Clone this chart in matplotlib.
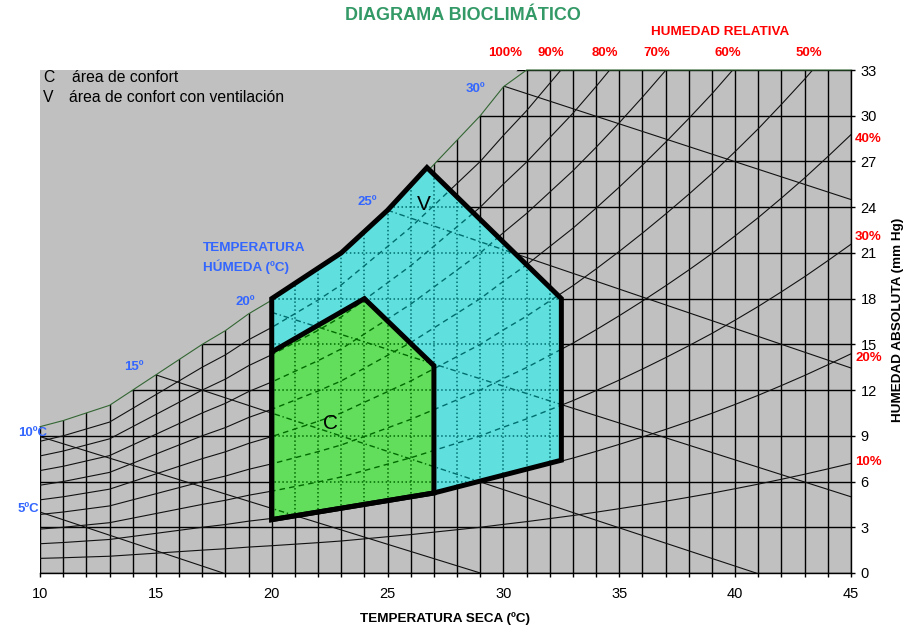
import numpy as np
import matplotlib
matplotlib.use("Agg")
import matplotlib.pyplot as plt
from matplotlib.patches import Polygon

plt.rcParams['font.family'] = ['Liberation Sans', 'DejaVu Sans']

# Dry-bulb temperature (ºC) and saturation vapour pressure (mm Hg)
dry_temp = [10, 11, 12, 13, 14, 15, 16, 17, 18, 19, 20, 21, 22, 23, 24, 25, 26, 27,
            28, 29, 30, 31, 32, 33, 34, 35, 36, 37, 38, 39, 40, 41, 42, 43, 44, 45]
sat_pressure = [9.6, 10.0, 10.5, 11.0, 12.0, 13.0, 14.0, 15.0, 15.9, 17.0, 17.9, 18.9,
                19.9, 21.0, 22.4, 23.8, 25.2, 26.8, 28.4, 30.0, 31.9, 33.7, 35.7, 37.7,
                39.9, 42.2, 44.6, 47.1, 49.7, 52.4, 55.3, 58.3, 61.5, 64.8, 68.3, 71.9]

# Relative humidity curves (%)
rh_levels = [90, 80, 70, 60, 50, 40, 30, 20, 10]
rh_top_labels = ["100%", "90%", "80%", "70%", "60%", "50%"]
rh_right_labels = ["40%", "30%", "20%", "10%"]

# Wet-bulb lines: start and end points (ºC, mm Hg)
wb_temp = [5, 10, 15, 20, 25, 30]
wb_start_t = [10, 10, 15, 20, 25, 30]
wb_start_p = [4.0, 8.95, 13.0, 17.1, 23.8, 31.95]
wb_end_t = [17.9, 29.0, 40.9, 45, 45, 45]
wb_end_p = [0, 0, 0, 5.0, 13.45, 24.5]
wb_labels = ["5ºC", "10ºC", "15º", "20º", "25º", "30º"]

# Comfort zones
zone_v_t = [20, 23, 25, 26.7, 32.5, 32.5, 27, 20]
zone_v_p = [18, 21, 23.8, 26.6, 18, 7.4, 5.25, 3.5]
zone_c_t = [20, 20, 24, 27, 27]
zone_c_p = [3.5, 14.5, 18, 13.6, 5.25]

x_ticks = list(range(10, 46, 5))
abs_ticks = list(range(0, 34, 3))

W, H = 918, 629
fig = plt.figure(figsize=(W / 100, H / 100), dpi=100)
ax = fig.add_axes([40 / W, 1 - 573 / H, 811 / W, 503 / H])
ax.set_facecolor('#c0c0c0')
ax.set_xlim(10, 45)
ax.set_ylim(0, 33)


def fx(px):
    return px / W


def fy(py):
    return 1 - py / H


def draw_lines(grid_kw, rh_kw, wb_kw, z, clip=None):
    arts = []
    for t in dry_temp:
        arts += ax.plot([t, t], [0, 33], zorder=z, **grid_kw)
    for p in abs_ticks:
        arts += ax.plot([10, 45], [p, p], zorder=z, **grid_kw)
    sat = np.array(sat_pressure)
    for rh in rh_levels:
        arts += ax.plot(dry_temp, sat * rh / 100.0, zorder=z, **rh_kw)
    for t0, p0, t1, p1 in zip(wb_start_t, wb_start_p, wb_end_t, wb_end_p):
        arts += ax.plot([t0, t1], [p0, p1], zorder=z, **wb_kw)
    if clip is not None:
        for a in arts:
            a.set_clip_path(clip)


# Base chart lines
draw_lines(dict(color='black', lw=1.0),
           dict(color='#111111', lw=0.8),
           dict(color='#111111', lw=0.8), z=2)

# Area above the saturation curve
ax.fill_between(dry_temp, sat_pressure, 40, color='#c0c0c0', zorder=2.5, lw=0)
ax.plot(dry_temp, np.minimum(sat_pressure, 33), color='#336633', lw=0.8,
        zorder=2.6, clip_on=False)

# Comfort zone with ventilation
poly_v = Polygon(list(zip(zone_v_t, zone_v_p)), closed=True, facecolor='#60dfdf',
                 edgecolor='none', zorder=3)
ax.add_patch(poly_v)
draw_lines(dict(color='#006d6d', lw=1.1, linestyle=(0, (1, 1.6))),
           dict(color='#006d6d', lw=1.0, linestyle=(0, (4, 3))),
           dict(color='#006d6d', lw=1.0, linestyle=(0, (4, 2, 1, 2))),
           z=3.1, clip=poly_v)

# Comfort zone
poly_c = Polygon(list(zip(zone_c_t, zone_c_p)), closed=True, facecolor='#62de5c',
                 edgecolor='none', zorder=3.2)
ax.add_patch(poly_c)
draw_lines(dict(color='#006a00', lw=1.1, linestyle=(0, (1, 1.6))),
           dict(color='#006a00', lw=1.0, linestyle=(0, (4, 3))),
           dict(color='#006a00', lw=1.0, linestyle=(0, (4, 2, 1, 2))),
           z=3.3, clip=poly_c)

# Zone outlines
for zt, zp in ((zone_v_t, zone_v_p), (zone_c_t, zone_c_p)):
    ax.add_patch(Polygon(list(zip(zt, zp)), closed=True, facecolor='none',
                         edgecolor='black', lw=3.6, joinstyle='miter', zorder=4))

ax.text(26.57, 24.15, "V", fontsize=15, ha='center', va='center', zorder=5)
ax.text(22.52, 9.8, "C", fontsize=15, ha='center', va='center', zorder=5)

# Axes styling
for s in ('left', 'top'):
    ax.spines[s].set_visible(False)
ax.spines['right'].set_linewidth(1.0)
ax.spines['bottom'].set_linewidth(1.0)
ax.spines['right'].set_zorder(6)
ax.spines['bottom'].set_zorder(6)
ax.set_xticks(x_ticks)
ax.set_xticks(dry_temp, minor=True)
ax.yaxis.tick_right()
ax.set_yticks(abs_ticks)
ax.tick_params(axis='x', which='both', direction='out', length=3, width=1,
               labelsize=10.5, pad=7)
ax.tick_params(axis='y', which='both', direction='out', length=3, width=1,
               labelsize=10.5, pad=4)

# Titles and axis labels
fig.text(fx(463), fy(15), "DIAGRAMA BIOCLIMÁTICO", color='#339966', fontsize=13,
         fontweight='bold', ha='center', va='center')
fig.text(fx(720), fy(32), "HUMEDAD RELATIVA", color='red', fontsize=9.7,
         fontweight='bold', ha='center', va='center')
fig.text(fx(445), fy(619), "TEMPERATURA SECA (ºC)", fontsize=9.7,
         fontweight='bold', ha='center', va='center')
fig.text(fx(898), fy(320), "HUMEDAD ABSOLUTA (mm Hg)", fontsize=9.7,
         fontweight='bold', ha='center', va='center', rotation=90)

# Relative humidity labels
for lab, px in zip(rh_top_labels, [505, 551, 605, 657, 728, 809]):
    fig.text(fx(px), fy(53), lab, color='red', fontsize=9.5, fontweight='bold',
             ha='center', va='center')
for lab, py in zip(rh_right_labels, [139, 237, 358, 462]):
    fig.text(fx(855), fy(py), lab, color='red', fontsize=9.5, fontweight='bold',
             ha='left', va='center')

# Wet-bulb temperature labels
blue = '#3366ff'
for lab, (px, py) in zip(wb_labels, [(18, 509), (18, 433), (124, 367), (235, 302),
                                      (357, 202), (466, 89)]):
    fig.text(fx(px), fy(py), lab, color=blue, fontsize=9.5, fontweight='bold',
             ha='left', va='center')
fig.text(fx(203), fy(248), "TEMPERATURA", color=blue, fontsize=9.7,
         fontweight='bold', ha='left', va='center')
fig.text(fx(203), fy(267), "HÚMEDA (ºC)", color=blue, fontsize=9.7,
         fontweight='bold', ha='left', va='center')

# Key
fig.text(fx(43), fy(77), "C", fontsize=11.3, ha='left', va='center')
fig.text(fx(72), fy(77), "área de confort", fontsize=11.3, ha='left', va='center')
fig.text(fx(43), fy(97), "V", fontsize=11.3, ha='left', va='center')
fig.text(fx(69), fy(97), "área de confort con ventilación", fontsize=11.3,
         ha='left', va='center')

fig.savefig("out.png", dpi=100)
